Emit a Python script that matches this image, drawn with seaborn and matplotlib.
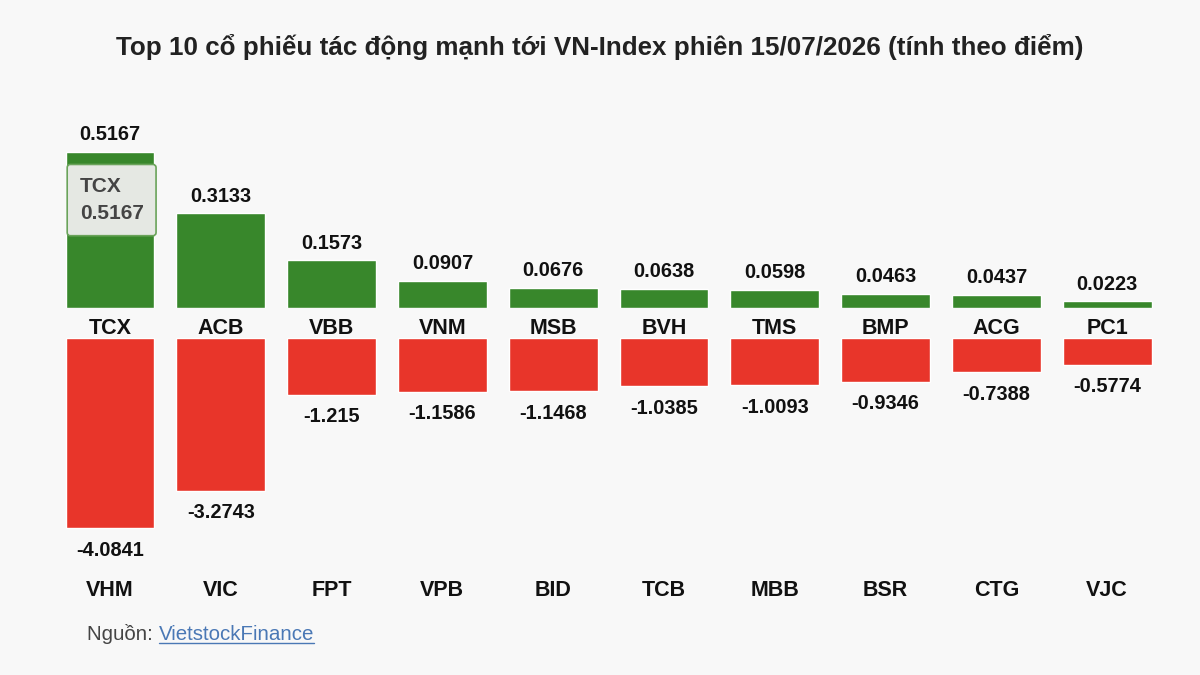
import matplotlib
matplotlib.use("Agg")
import matplotlib.pyplot as plt
import seaborn as sns
import pandas as pd
from matplotlib.lines import Line2D

pos_codes = ["TCX", "ACB", "VBB", "VNM", "MSB", "BVH", "TMS", "BMP", "ACG", "PC1"]
pos_vals = [0.5167, 0.3133, 0.1573, 0.0907, 0.0676, 0.0638, 0.0598, 0.0463, 0.0437, 0.0223]
neg_codes = ["VHM", "VIC", "FPT", "VPB", "BID", "TCB", "MBB", "BSR", "CTG", "VJC"]
neg_vals = [-4.0841, -3.2743, -1.215, -1.1586, -1.1468, -1.0385, -1.0093, -0.9346, -0.7388, -0.5774]
neg_labels = ["-4.0841", "-3.2743", "-1.215", "-1.1586", "-1.1468", "-1.0385", "-1.0093", "-0.9346", "-0.7388", "-0.5774"]

title = "Top 10 cổ phiếu tác động mạnh tới VN-Index phiên 15/07/2026 (tính theo điểm)"
BG = "#f8f8f8"
GREEN = "#38872b"
RED = "#e8352a"

sns.set_theme(style="white")
plt.rcParams["font.family"] = ["Liberation Sans", "DejaVu Sans"]

fig = plt.figure(figsize=(12, 6.75), dpi=100, facecolor=BG)
W, H = 1200, 675

def axes_px(left, top, width, height):
    return fig.add_axes([left / W, 1 - (top + height) / H, width / W, height / H])

# top (positive) axes: baseline at y=308 px, 302 px per unit
top_ylim = 0.55
ax1 = axes_px(54.6, 308 - top_ylim * 302, 1108, top_ylim * 302)
# bottom (negative) axes: starts at y=338 px, 46.6 px per unit
bot_ylim = 4.5
ax2 = axes_px(54.6, 338, 1108, bot_ylim * 46.6)

df_pos = pd.DataFrame({"code": pos_codes, "val": pos_vals})
df_neg = pd.DataFrame({"code": neg_codes, "val": neg_vals})

sns.barplot(data=df_pos, x="code", y="val", color=GREEN, saturation=1, width=0.8, ax=ax1)
sns.barplot(data=df_neg, x="code", y="val", color=RED, saturation=1, width=0.8, ax=ax2)

for ax in (ax1, ax2):
    ax.set_facecolor(BG)
    ax.patch.set_alpha(0)
    for s in ax.spines.values():
        s.set_visible(False)
    ax.set_xlim(-0.5, 9.5)
    ax.set_xlabel("")
    ax.set_ylabel("")
    ax.set_yticks([])
    ax.tick_params(axis="x", length=0)

ax1.set_ylim(0, top_ylim)
ax2.set_ylim(-bot_ylim, 0)

# value labels
ax1.bar_label(ax1.containers[0], labels=[f"{v:.4f}" for v in pos_vals], padding=5.5,
              fontsize=14.4, fontweight="bold", color="#111111")
ax2.bar_label(ax2.containers[0], labels=neg_labels, padding=9,
              fontsize=14.4, fontweight="bold", color="#111111")

# category labels
ax1.set_xticks(range(len(pos_codes)))
ax1.set_xticklabels(pos_codes, fontsize=15.5, fontweight="bold", color="#111111")
ax1.tick_params(axis="x", pad=7.5)
ax2.set_xticks(range(len(neg_codes)))
ax2.set_xticklabels(neg_codes, fontsize=15.5, fontweight="bold", color="#111111")
ax2.tick_params(axis="x", pad=23)

# tooltip on first bar
ax1.annotate(f"{pos_codes[0]}\n{pos_vals[0]:.4f}", xy=(-0.4, pos_vals[0]),
             xytext=(14, -25), textcoords="offset pixels",
             ha="left", va="top", fontsize=15, fontweight="bold", color="#444444",
             linespacing=1.55, multialignment="left",
             bbox=dict(boxstyle="round,pad=0.6,rounding_size=0.15", fc="#e5e8e3",
                       ec="#6aa35a", lw=1.2))

fig.text(0.5, 1 - 47 / H, title, ha="center", va="center", fontsize=18.7,
         fontweight="bold", color="#222222")

t1 = fig.text(87 / W, 1 - 634 / H, "Nguồn: ", ha="left", va="center", fontsize=14.8,
              color="#444444")
fig.canvas.draw()
r = fig.canvas.get_renderer()
bb = t1.get_window_extent(r)
t2 = fig.text(bb.x1 / W, 1 - 634 / H, "VietstockFinance", ha="left", va="center",
              fontsize=14.8, color="#4a78b5")
fig.canvas.draw()
bb2 = t2.get_window_extent(r)
fig.add_artist(Line2D([bb2.x0 / W, bb2.x1 / W], [(bb2.y0 + 1) / H] * 2,
                      transform=fig.transFigure, color="#4a78b5", lw=1))

fig.savefig("out.png", dpi=100, facecolor=BG)
